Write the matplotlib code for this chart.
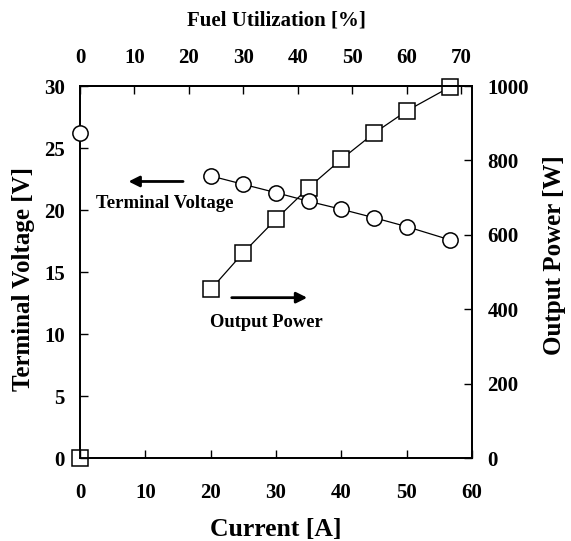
import matplotlib
matplotlib.use("Agg")
import matplotlib.pyplot as plt

plt.rcParams['font.family'] = ['Liberation Serif', 'DejaVu Serif']
plt.rcParams['font.weight'] = 'bold'

# measured points (the zero-current points are not joined to the curves)
current_0 = [0]
voltage_0 = [26.2]
power_0 = [0]

current = [20, 25, 30, 35, 40, 45, 50, 56.7]
voltage = [22.75, 22.07, 21.4, 20.7, 20.06, 19.38, 18.66, 17.58]
power = [453, 552, 642, 727, 803, 873, 933, 998]

v_ticks = [0, 5, 10, 15, 20, 25, 30]
p_ticks = [0, 200, 400, 600, 800, 1000]
i_ticks = [0, 10, 20, 30, 40, 50, 60]
fu_ticks = [0, 10, 20, 30, 40, 50, 60, 70]

fig = plt.figure(figsize=(5.71, 5.41), dpi=100)
ax = fig.add_axes([80 / 571, 1 - 458 / 541, 392 / 571, 372 / 541])
ax2 = ax.twinx()

mk = dict(markersize=11, markerfacecolor='white', markeredgecolor='black',
          markeredgewidth=1.1, color='black', linewidth=0.9, clip_on=False)

ax2.plot(current, power, marker='s', zorder=3, **mk)
ax2.plot(current_0, power_0, marker='s', linestyle='none', zorder=3, **mk)
ax.plot(current, voltage, marker='o', zorder=4, **mk)
ax.plot(current_0, voltage_0, marker='o', linestyle='none', zorder=4, **mk)
ax.set_zorder(ax2.get_zorder() + 1)
ax.patch.set_visible(False)

ax.set_xlim(0, 60)
ax.set_ylim(0, 30)
ax2.set_ylim(0, 1000)
ax.set_xticks(i_ticks)
ax.set_yticks(v_ticks)
ax2.set_yticks(p_ticks)

# fuel utilization: 60 A corresponds to 72 %
top = ax.secondary_xaxis('top', functions=(lambda i: i * 1.2, lambda u: u / 1.2))
top.set_xticks(fu_ticks)

for a in (ax, ax2):
    for s in a.spines.values():
        s.set_linewidth(1.3)
ax.tick_params(axis='both', direction='in', length=6, width=1, labelsize=15)
ax.tick_params(axis='y', pad=11)
ax.tick_params(axis='x', pad=18)
ax2.tick_params(axis='y', direction='in', length=6, width=1, labelsize=15, pad=11)
top.tick_params(direction='in', length=6, width=1, labelsize=15, pad=13)
top.spines['top'].set_linewidth(1.3)

ax.set_xlabel('Current [A]', fontsize=18.5, fontweight='bold')
ax.xaxis.set_label_coords(0.5, -0.162)
ax.set_ylabel('Terminal Voltage [V]', fontsize=18, fontweight='bold')
ax.yaxis.set_label_coords(-0.115, 0.48)
ax2.set_ylabel('Output Power [W]', fontsize=18, fontweight='bold')
ax2.yaxis.set_label_coords(1.181, 0.546)
fig.text(276 / 571, 1 - 21 / 541, 'Fuel Utilization [%]', ha='center', va='center',
         fontsize=15, fontweight='bold')

arrow = dict(arrowstyle='-|>', color='black', lw=2, mutation_scale=16)
ax.annotate('', xy=(7.0, 22.3), xytext=(16.2, 22.3), arrowprops=arrow)
ax.text(12.9, 20.56, 'Terminal Voltage', ha='center', va='center', fontsize=13.5, fontweight='bold')
ax.annotate('', xy=(35.2, 12.93), xytext=(22.8, 12.93), arrowprops=arrow)
ax.text(28.6, 10.9, 'Output Power', ha='center', va='center', fontsize=13.3, fontweight='bold')

fig.savefig('out.png', dpi=100)
